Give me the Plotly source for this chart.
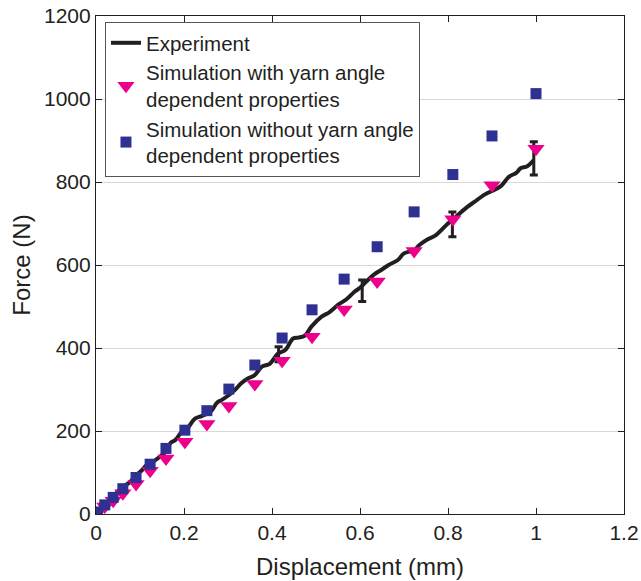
import plotly.graph_objects as go

# Experiment curve (displacement mm, force N)
exp_x = [0.0, 0.01, 0.02, 0.036, 0.05, 0.062, 0.075, 0.09, 0.105, 0.115, 0.135, 0.15, 0.158, 0.17, 0.18,
         0.195, 0.205, 0.225, 0.24, 0.26, 0.275, 0.286, 0.3, 0.316, 0.33, 0.346, 0.36, 0.377, 0.395,
         0.414, 0.43, 0.448, 0.46, 0.475, 0.49, 0.512, 0.53, 0.55, 0.57, 0.588, 0.6, 0.618, 0.633,
         0.648, 0.665, 0.686, 0.7, 0.724, 0.735, 0.754, 0.77, 0.8, 0.82, 0.844, 0.86, 0.882, 0.905,
         0.92, 0.939, 0.955, 0.965, 0.98, 0.995]
exp_y = [0, 12, 22, 38, 55, 66, 75, 92, 106, 118, 130, 142, 150, 172, 178,
         198, 203, 230, 236, 246, 268, 275, 285, 299, 315, 327, 334, 355, 362,
         387, 395, 423, 425, 430, 452, 475, 486, 504, 518, 536, 545, 564, 578,
         588, 600, 612, 628, 636, 648, 662, 670, 700, 718, 740, 752, 769, 781,
         790, 813, 822, 833, 838, 853]

# Error bars on experiment
err_x = [0.415, 0.605, 0.81, 0.995]
err_y = [385, 538, 698, 857]
err_d = [18, 26, 30, 40]

# Simulation with yarn angle dependent properties
with_x = [0.0, 0.02, 0.039, 0.061, 0.091, 0.123, 0.159, 0.202, 0.252, 0.302, 0.361, 0.423, 0.491,
          0.564, 0.639, 0.723, 0.811, 0.9, 1.0]
with_y = [-2, 18, 32, 50, 72, 104, 134, 174, 217, 260, 313, 369, 427,
          493, 560, 634, 710, 792, 880]

# Simulation without yarn angle dependent properties
wo_x = [0.003, 0.02, 0.039, 0.061, 0.091, 0.123, 0.159, 0.202, 0.252, 0.302, 0.361, 0.423, 0.491,
        0.564, 0.639, 0.723, 0.811, 0.9, 1.0]
wo_y = [5, 22, 40, 61, 88, 120, 158, 202, 249, 301, 359, 424, 492,
        566, 644, 728, 818, 911, 1013]

x_ticks = [0, 0.2, 0.4, 0.6, 0.8, 1, 1.2]
x_tick_text = ["0", "0.2", "0.4", "0.6", "0.8", "1", "1.2"]
y_ticks = [0, 200, 400, 600, 800, 1000, 1200]

FONT = "Liberation Sans, Arial, sans-serif"
INK = "#231f20"

fig = go.Figure()
fig.add_trace(go.Scatter(x=exp_x, y=exp_y, mode="lines", name="Experiment",
                         line=dict(color=INK, width=4), line_shape="spline"))
fig.add_trace(go.Scatter(x=err_x, y=err_y, mode="markers", showlegend=False,
                         marker=dict(size=1, color=INK, opacity=0),
                         error_y=dict(type="data", array=err_d, color=INK, thickness=3, width=4)))
fig.add_trace(go.Scatter(x=with_x, y=with_y, mode="markers",
                         name="Simulation with yarn angle<br>dependent properties",
                         marker=dict(symbol="triangle-down", size=15, color="#ec008c")))
fig.add_trace(go.Scatter(x=wo_x, y=wo_y, mode="markers",
                         name="Simulation without yarn angle<br>dependent properties",
                         marker=dict(symbol="square", size=11, color="#2e3192",
                                     line=dict(width=0))))

axis_common = dict(showline=True, linecolor=INK, linewidth=1.2, mirror="ticks",
                   ticks="inside", ticklen=6, tickcolor=INK, zeroline=False, automargin=False,
                   ticklabeloverflow="allow",
                   tickfont=dict(family=FONT, size=21, color=INK))

fig.update_layout(
    width=641, height=581,
    margin=dict(l=96, r=17, t=16, b=67),
    paper_bgcolor="white", plot_bgcolor="white",
    font=dict(family=FONT, color=INK),
    xaxis=dict(range=[0, 1.2], tickvals=x_ticks, ticktext=x_tick_text, showgrid=False,
               title=dict(text="Displacement (mm)", font=dict(family=FONT, size=24, color=INK), standoff=14),
               **axis_common),
    yaxis=dict(range=[0, 1200], tickvals=y_ticks, showgrid=True, gridcolor="#d9d9d9", gridwidth=1,
               title=dict(text="Force (N)", font=dict(family=FONT, size=24, color=INK), standoff=6),
               **axis_common),
    legend=dict(x=0.017, y=0.988, xanchor="left", yanchor="top",
                bgcolor="white", bordercolor="#555555", borderwidth=1,
                font=dict(family=FONT, size=20.5, color=INK), tracegroupgap=0,
                itemwidth=30),
    showlegend=True,
)

fig.write_html("out.html", config={"displayModeBar": False},
               post_script="document.body.style.margin='0';document.body.style.overflow='hidden';")
